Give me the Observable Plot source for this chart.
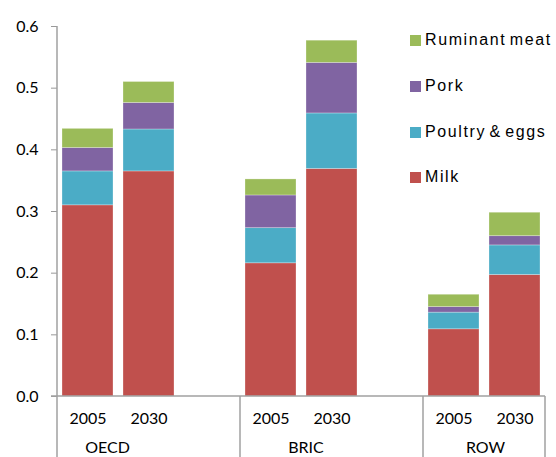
<!DOCTYPE html>
<html>
<head>
<meta charset="utf-8">
<script src="https://cdn.jsdelivr.net/npm/d3@7"></script>
<script src="https://cdn.jsdelivr.net/npm/@observablehq/plot@0.6"></script>
<style>
  html, body { margin: 0; padding: 0; background: #fff; }
  #wrap { position: relative; width: 556px; height: 457px; overflow: hidden; }
  #legend { position: absolute; left: 410px; top: 0; font-family: "Liberation Sans", Arial, sans-serif; font-size: 16px; letter-spacing: 1.6px; word-spacing: -2.5px; color: #000; white-space: nowrap; }
  #legend .item { position: absolute; left: 0; height: 20px; display: flex; align-items: center; }
  #legend .sw { width: 11px; height: 11px; margin-right: 4px; flex: none; }
</style>
</head>
<body>
<div id="wrap"><div id="legend"></div></div>
<script>
// ---- data ----
const regions = ["OECD", "BRIC", "ROW"];
const years = ["2005", "2030"];
const categories = ["Milk", "Poultry & eggs", "Pork", "Ruminant meat"];
// values per bar in order: OECD 2005, OECD 2030, BRIC 2005, BRIC 2030, ROW 2005, ROW 2030
const milk =     [0.310, 0.365, 0.216, 0.369, 0.109, 0.197];
const poultry =  [0.055, 0.068, 0.057, 0.090, 0.027, 0.048];
const pork =     [0.038, 0.043, 0.053, 0.082, 0.009, 0.015];
const ruminant = [0.031, 0.034, 0.026, 0.036, 0.020, 0.038];
const colors = ["#C0504D", "#4BACC6", "#8064A2", "#9BBB59"];
const legendOrder = ["Ruminant meat", "Pork", "Poultry & eggs", "Milk"];

// ---- build table ----
const series = [milk, poultry, pork, ruminant];
const rows = [];
const barKeys = [];
regions.forEach((r, ri) => years.forEach((yr, yi) => barKeys.push({key: r + "|" + yr, region: r, year: yr, i: ri * 2 + yi})));
categories.forEach((c, ci) => barKeys.forEach(b => rows.push({key: b.key, region: b.region, year: b.year, category: c, value: series[ci][b.i]})));
// slot domain (Excel multi-level axis leaves an empty slot after OECD and BRIC)
const domain = ["OECD|2005", "OECD|2030", "OECD|", "BRIC|2005", "BRIC|2030", "BRIC|", "ROW|2005", "ROW|2030"];

const FONT = "Lato, 'Open Sans', sans-serif";
const pInner = 0.16;

const plot = Plot.plot({
  width: 556,
  height: 457,
  marginLeft: 57,
  marginRight: 11,
  marginTop: 26,
  marginBottom: 61,
  style: {fontFamily: FONT, fontSize: "16px", color: "#000", background: "#fff", overflow: "visible"},
  x: {type: "band", domain, paddingInner: pInner, paddingOuter: pInner / 2, axis: null},
  y: {domain: [0, 0.6], axis: null},
  color: {domain: categories, range: colors},
  marks: [
    Plot.barY(rows, {x: "key", y: "value", fill: "category", stroke: "#fff", strokeOpacity: 0.35, strokeWidth: 0.8}),
    Plot.axisY({ticks: d3.range(0, 0.61, 0.1), tickFormat: d3.format(".1f"), tickSize: 6, tickPadding: 13, stroke: "#999", fontSize: 16, fontFamily: FONT, label: null}),
    Plot.axisX({ticks: barKeys.map(b => b.key), tickFormat: k => k.split("|")[1], tickSize: 0, tickPadding: 16, fontSize: 16, fontFamily: FONT, label: null})
  ]
});

document.getElementById("wrap").prepend(plot);

// ---- axis lines, group separators and group labels from the scales ----
const xs = plot.scale("x"), ys = plot.scale("y");
const bw = xs.bandwidth;
const step = xs.step || bw / (1 - pInner);
const gap = step - bw;
const slotLeft = k => xs.apply(k) - gap / 2;
const y0 = ys.apply(0), yTop = ys.apply(0.6);
const svg = d3.select(plot);
const g = svg.append("g").attr("stroke", "#a0a0a0").attr("stroke-width", 1.5);
const xLeft = slotLeft("OECD|2005");
const xRight = slotLeft("ROW|2030") + step;
g.append("line").attr("x1", xLeft).attr("x2", xLeft).attr("y1", yTop).attr("y2", 457);
g.append("line").attr("x1", xLeft - 6).attr("x2", xRight).attr("y1", y0).attr("y2", y0);
["BRIC|2005", "ROW|2005"].forEach(k => {
  const x = slotLeft(k);
  g.append("line").attr("x1", x).attr("x2", x).attr("y1", y0).attr("y2", 457);
});
g.append("line").attr("x1", xRight).attr("x2", xRight).attr("y1", y0).attr("y2", 457);

const labelShift = {OECD: -10.5, BRIC: 5, ROW: 1.5};
regions.forEach(r => {
  const a = xs.apply(r + "|2005") + bw / 2, b = xs.apply(r + "|2030") + bw / 2;
  svg.append("text").attr("x", (a + b) / 2 + labelShift[r]).attr("y", y0 + 57)
    .attr("text-anchor", "middle").attr("font-family", FONT).attr("font-size", 16).attr("fill", "#000").text(r);
});

// ---- legend ----
const leg = document.getElementById("legend");
const legTops = [30, 76, 122, 167];
legendOrder.forEach((c, i) => {
  const it = document.createElement("div");
  it.className = "item";
  it.style.top = legTops[i] + "px";
  const sw = document.createElement("span");
  sw.className = "sw";
  sw.style.background = colors[categories.indexOf(c)];
  const tx = document.createElement("span");
  tx.textContent = c;
  it.append(sw, tx);
  leg.append(it);
});
</script>
</body>
</html>
